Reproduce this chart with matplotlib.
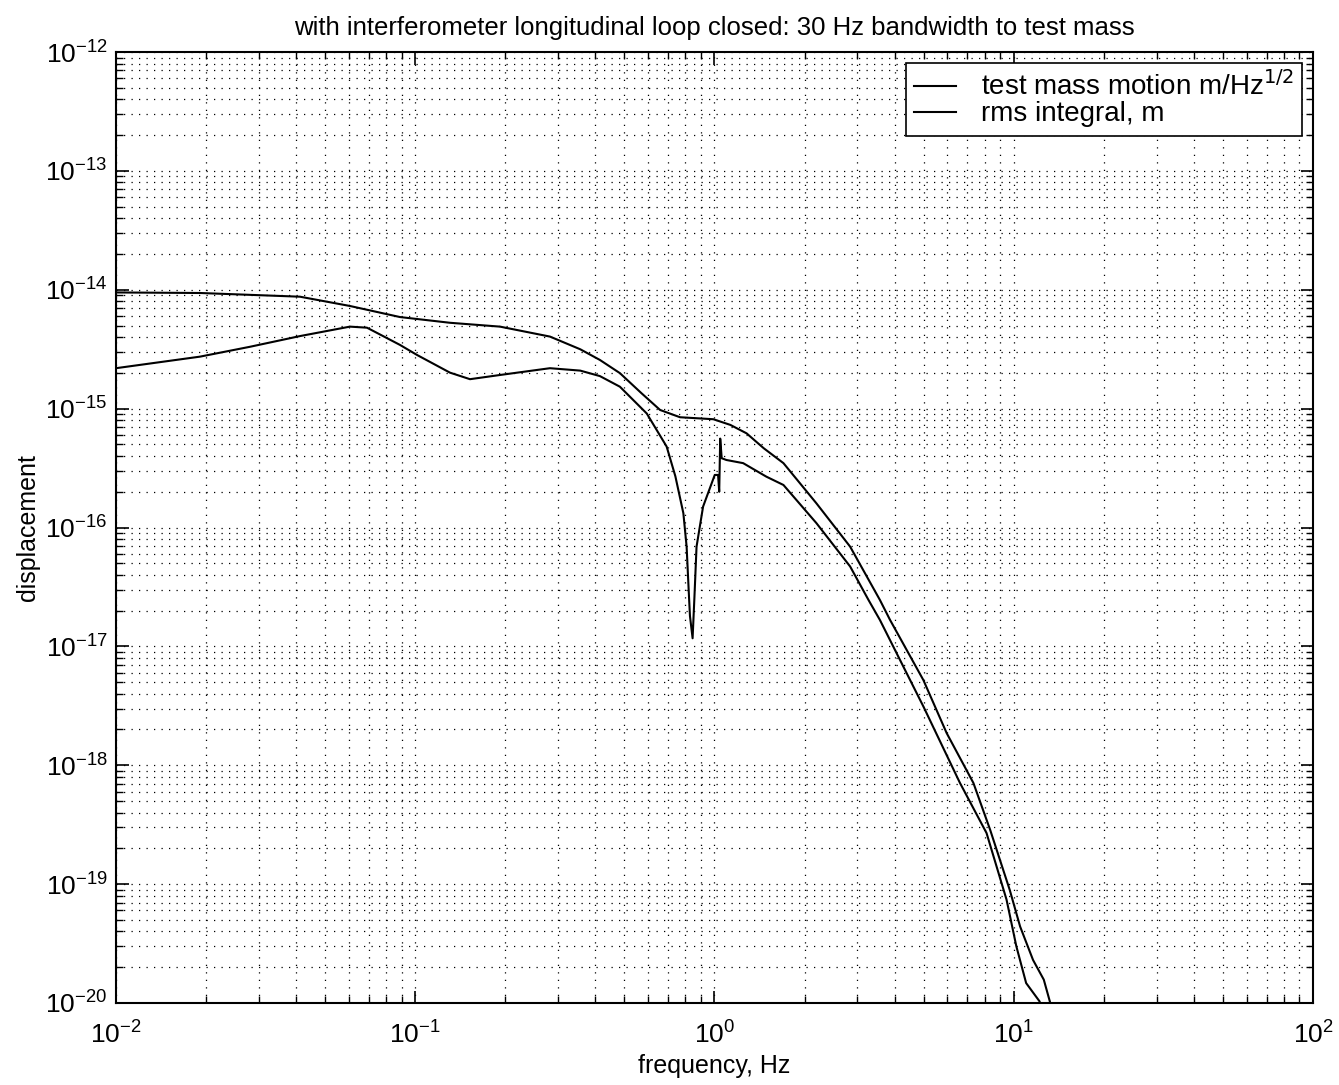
import matplotlib
matplotlib.use("Agg")
import matplotlib.pyplot as plt
from matplotlib.ticker import LogLocator, NullFormatter

plt.rcParams['font.family'] = ['Liberation Sans', 'DejaVu Sans']

# test mass motion, m/Hz^1/2
freq_motion = [0.01, 0.0191, 0.0281, 0.0412, 0.0605, 0.069, 0.0889, 0.1014, 0.1306,
               0.1524, 0.192, 0.282, 0.356, 0.414, 0.483, 0.594, 0.692, 0.740, 0.787,
               0.807, 0.822, 0.828, 0.845, 0.857, 0.871, 0.916, 1.002, 1.028, 1.037,
               1.045, 1.057, 1.096, 1.247, 1.49, 1.70, 2.19, 2.84, 3.27, 3.57, 4.99,
               6.61, 8.11, 9.46, 10.2, 11.0, 12.2, 12.5]
disp_motion = [2.19e-15, 2.74e-15, 3.32e-15, 4.08e-15, 4.90e-15, 4.80e-15, 3.44e-15,
               2.83e-15, 2.01e-15, 1.77e-15, 1.92e-15, 2.19e-15, 2.09e-15, 1.88e-15,
               1.53e-15, 9.1e-16, 4.8e-16, 2.7e-16, 1.32e-16, 6.9e-17, 2.6e-17,
               1.8e-17, 1.17e-17, 2.6e-17, 6.9e-17, 1.50e-16, 2.77e-16, 2.77e-16,
               2.0e-16, 5.6e-16, 3.83e-16, 3.7e-16, 3.48e-16, 2.68e-16, 2.28e-16,
               1.09e-16, 4.7e-17, 2.46e-17, 1.67e-17, 3.12e-18, 7.1e-19, 2.69e-19,
               7.4e-20, 3.0e-20, 1.47e-20, 1.03e-20, 8e-21]

# rms integral, m
freq_rms = [0.01, 0.0191, 0.0412, 0.0605, 0.0889, 0.1306, 0.192, 0.282, 0.356, 0.414,
            0.483, 0.570, 0.658, 0.767, 0.991, 1.13, 1.28, 1.46, 1.70, 2.19, 2.84, 3.57,
            3.86, 4.99, 5.97, 7.33, 8.34, 9.70, 10.5, 11.6, 12.6, 13.2, 13.5]
disp_rms = [9.5e-15, 9.4e-15, 8.75e-15, 7.31e-15, 5.90e-15, 5.28e-15, 4.90e-15, 4.04e-15,
            3.16e-15, 2.57e-15, 1.99e-15, 1.35e-15, 9.75e-16, 8.47e-16, 8.15e-16,
            7.3e-16, 6.2e-16, 4.65e-16, 3.48e-16, 1.60e-16, 6.9e-17, 2.46e-17, 1.67e-17,
            5.2e-18, 1.86e-18, 7.1e-19, 2.86e-19, 8.9e-20, 4.4e-20, 2.3e-20, 1.57e-20,
            1.03e-20, 8e-21]

fig = plt.figure(figsize=(13.39, 10.85), dpi=100)
ax = fig.add_axes([0.0866, 0.0756, 0.894, 0.8764])

ax.loglog(freq_motion, disp_motion, color='black', lw=1.5,
          label='test mass motion m/Hz$^{1/2}$')
ax.loglog(freq_rms, disp_rms, color='black', lw=1.5, label='rms integral, m')

ax.set_xlim(1e-2, 1e2)
ax.set_ylim(1e-20, 1e-12)

for axis in (ax.xaxis, ax.yaxis):
    axis.set_major_locator(LogLocator(base=10, numticks=20))
    axis.set_minor_locator(LogLocator(base=10, subs=range(2, 10), numticks=20))
    axis.set_minor_formatter(NullFormatter())

ax.grid(True, which='both', color='black', linestyle=(0, (1, 5)), linewidth=0.9)
ax.tick_params(which='both', direction='in', top=True, right=True, labelsize=19)
ax.tick_params(which='major', length=9, width=1.2)
ax.tick_params(which='minor', length=5, width=1.0)
ax.tick_params(axis='x', which='major', pad=13)
ax.tick_params(axis='y', which='major', pad=6)
for s in ax.spines.values():
    s.set_linewidth(1.5)

ax.set_xlabel('frequency, Hz', fontsize=18, labelpad=4)
ax.set_ylabel('displacement', fontsize=18, labelpad=4)
ax.set_title('with interferometer longitudinal loop closed: 30 Hz bandwidth to test mass',
             fontsize=18.5, pad=12)

leg = ax.legend(loc='upper right', fontsize=20, fancybox=False, framealpha=1,
                edgecolor='black', handlelength=1.5, handletextpad=0.9,
                labelspacing=0.0, borderaxespad=0.4, borderpad=0.3)
leg.get_frame().set_linewidth(1.2)

fig.savefig('out.png', dpi=100)
